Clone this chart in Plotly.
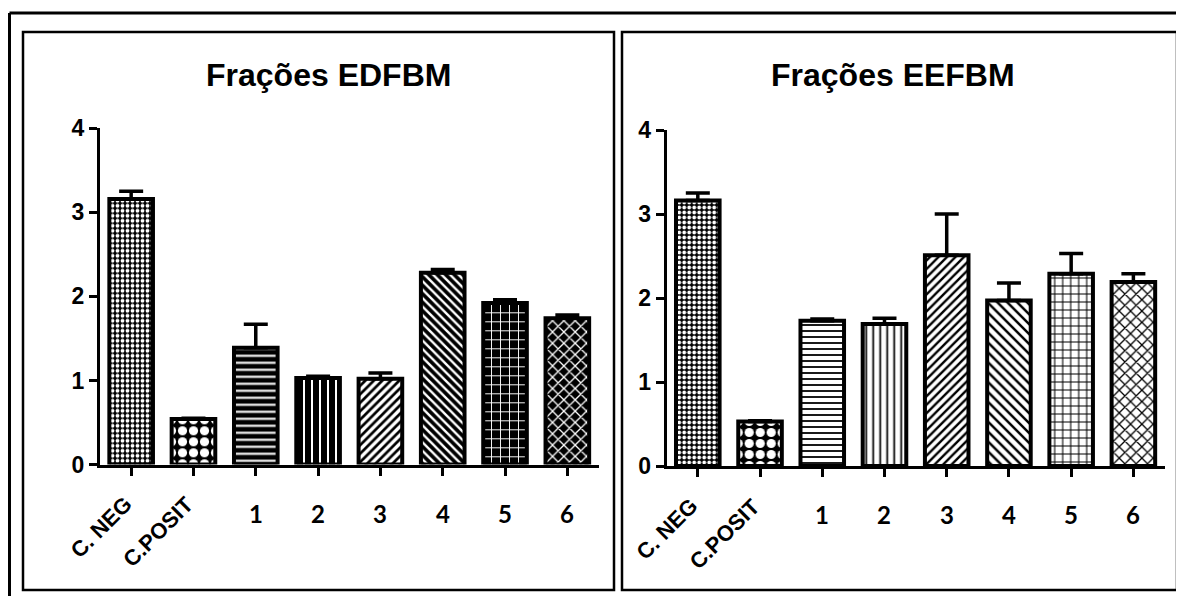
import plotly.graph_objects as go

# ---------------- data ----------------
categories = ["C. NEG", "C.POSIT", "1", "2", "3", "4", "5", "6"]
titles = ["Frações EDFBM", "Frações EEFBM"]

edfbm_values = [3.16, 0.54, 1.39, 1.03, 1.02, 2.28, 1.92, 1.74]
edfbm_errors = [0.09, 0.01, 0.28, 0.02, 0.07, 0.04, 0.04, 0.04]

eefbm_values = [3.16, 0.53, 1.73, 1.69, 2.51, 1.97, 2.29, 2.19]
eefbm_errors = [0.09, 0.01, 0.02, 0.07, 0.49, 0.21, 0.24, 0.10]

y_ticks = [0, 1, 2, 3, 4]

# ---------------- style ----------------
OFF = 8                      # page body margin
W, H = 1184 - OFF, 596 - OFF
FONT = "Liberation Sans"
LBL_FONT = "Lato"

left_pattern = dict(
    shape=[".", ".", "-", "|", "/", "\\", "+", "x"],
    fgcolor=["white", "white", "white", "white", "black", "white", "white", "white"],
    bgcolor=["black", "black", "black", "black", "white", "black", "black", "black"],
    size=[5, 11, 7, 8, 6, 6, 9, 8],
    solidity=[0.45, 0.55, 0.3, 0.25, 0.45, 0.4, 0.2, 0.3],
    fillmode="replace",
)
right_pattern = dict(
    shape=[".", ".", "-", "|", "/", "\\", "+", "x"],
    fgcolor=["white", "white", "black", "black", "black", "black", "black", "black"],
    bgcolor=["black", "black", "white", "white", "white", "white", "white", "white"],
    size=[5, 11, 6, 7, 6, 7, 8, 8],
    solidity=[0.45, 0.55, 0.3, 0.25, 0.4, 0.35, 0.25, 0.3],
    fillmode="replace",
)

def px_x(p):
    return (p - OFF) / W

def px_y(p):
    return 1 - (p - OFF) / H

xpos = list(range(len(categories)))

fig = go.Figure()
for i, (vals, errs, pat) in enumerate([(edfbm_values, edfbm_errors, left_pattern),
                                        (eefbm_values, eefbm_errors, right_pattern)]):
    fig.add_trace(go.Bar(
        x=xpos, y=vals,
        width=0.7,
        xaxis="x" if i == 0 else "x2",
        yaxis="y" if i == 0 else "y2",
        marker=dict(color="black", line=dict(color="black", width=4), pattern=pat),
        error_y=dict(type="data", array=errs, arrayminus=[0] * len(errs), symmetric=False,
                     color="black", thickness=3.5, width=12),
        showlegend=False,
        hoverinfo="skip",
    ))

axis_common = dict(
    showgrid=False, zeroline=False, showline=True, linecolor="black", linewidth=3,
    ticks="outside", tickcolor="black", tickwidth=3, ticklen=8,
)

# plot area geometry (pixels in final picture)
L_x0, L_x1, L_y0, L_y4 = 100, 598.5, 464.5, 128.3
R_x0, R_x1, R_y0, R_y4 = 666.7, 1164.5, 466, 130

ytickfont = dict(family=FONT, size=23, color="black", weight="bold")

fig.update_layout(
    width=W, height=H,
    margin=dict(l=0, r=0, t=0, b=0, pad=0, autoexpand=False),
    paper_bgcolor="white", plot_bgcolor="white",
    xaxis=dict(domain=[px_x(L_x0), px_x(L_x1)], range=[-0.5, 7.5], tickvals=xpos,
               showticklabels=False, anchor="y", **axis_common),
    yaxis=dict(domain=[px_y(L_y0), px_y(L_y4)], range=[0, 4], tickvals=y_ticks,
               tickfont=ytickfont, ticklabelstandoff=0, anchor="x", **axis_common),
    xaxis2=dict(domain=[px_x(R_x0), px_x(R_x1)], range=[-0.5, 7.5], tickvals=xpos,
                showticklabels=False, anchor="y2", **axis_common),
    yaxis2=dict(domain=[px_y(R_y0), px_y(R_y4)], range=[0, 4], tickvals=y_ticks,
                tickfont=ytickfont, ticklabelstandoff=0, anchor="x2", **axis_common),
)

# frames
shapes = [
    # outer frame (top, left, right)
    dict(type="line", xref="paper", yref="paper", x0=px_x(9.5), x1=px_x(1182), y0=px_y(13), y1=px_y(13),
         line=dict(color="black", width=3)),
    dict(type="line", xref="paper", yref="paper", x0=px_x(9.5), x1=px_x(9.5), y0=px_y(13), y1=0,
         line=dict(color="black", width=3)),
    dict(type="line", xref="paper", yref="paper", x0=px_x(1182), x1=px_x(1182), y0=px_y(13), y1=0,
         line=dict(color="black", width=3)),
    dict(type="rect", xref="paper", yref="paper", x0=px_x(23), x1=px_x(614), y0=px_y(590), y1=px_y(32),
         line=dict(color="black", width=2.5)),
    dict(type="rect", xref="paper", yref="paper", x0=px_x(622), x1=px_x(1177), y0=px_y(590), y1=px_y(32),
         line=dict(color="black", width=2.5)),
]
fig.update_layout(shapes=shapes)

annotations = []
# titles
for title, cx in zip(titles, [328, 893]):
    annotations.append(dict(text=title, xref="paper", yref="paper", x=px_x(cx), y=px_y(75),
                            xanchor="center", yanchor="middle", showarrow=False,
                            font=dict(family=FONT, size=32, color="black", weight="bold")))
# category labels
for xa, y0 in [("x", L_y0), ("x2", R_y0)]:
    for k, cat in enumerate(categories):
        if k < 2:
            annotations.append(dict(text=cat, xref=xa, yref="paper", x=k, y=px_y(y0 + 24),
                                    xanchor="right", yanchor="top", xshift=8, textangle=-45,
                                    showarrow=False,
                                    font=dict(family=FONT, size=22, color="black", weight="bold")))
        else:
            annotations.append(dict(text=cat, xref=xa, yref="paper", x=k, y=px_y(y0 + 48.5),
                                    xanchor="center", yanchor="middle", showarrow=False,
                                    font=dict(family=LBL_FONT, size=24, color="black", weight="bold")))
fig.update_layout(annotations=annotations)

fig.write_html("out.html")
